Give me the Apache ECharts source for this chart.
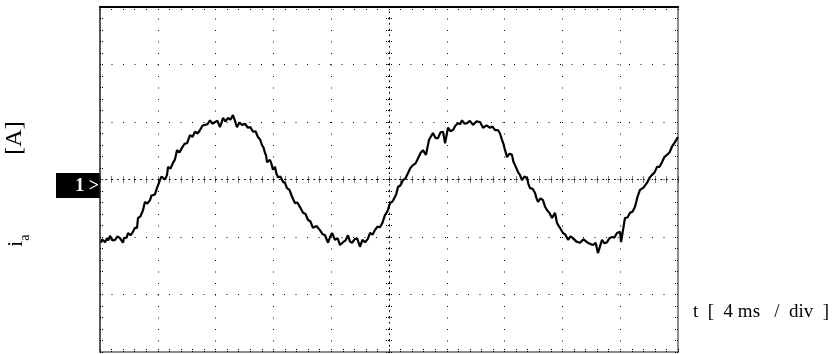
<!DOCTYPE html>
<html>
<head>
<meta charset="utf-8">
<style>
  html, body { margin: 0; padding: 0; background: #fff; }
  #chart { width: 836px; height: 354px; }
</style>
<script src="https://cdn.jsdelivr.net/npm/echarts@6/dist/echarts.min.js"></script>
</head>
<body>
<div id="chart"></div>
<script>
// time in ms (4 ms / div, 10 div)
const timeMs = [
  0.07, 0.14, 0.21, 0.35, 0.48, 0.58, 0.69, 0.86, 1.04, 1.21, 1.38, 1.48, 1.59, 1.66, 1.73, 1.84,
  1.94, 2.11, 2.28, 2.42, 2.56, 2.63, 2.80, 2.98, 3.04, 3.11, 3.28, 3.46, 3.56, 3.67, 3.80, 3.94,
  4.04, 4.15, 4.25, 4.36, 4.50, 4.64, 4.71, 4.88, 5.05, 5.19, 5.33, 5.50, 5.67, 5.85, 6.02, 6.12,
  6.23, 6.40, 6.57, 6.75, 6.92, 7.10, 7.27, 7.44, 7.61, 7.78, 7.96, 8.13, 8.30, 8.40, 8.51, 8.68,
  8.86, 9.03, 9.20, 9.34, 9.48, 9.65, 9.83, 10.03, 10.24, 10.41, 10.59, 10.76, 10.93, 11.07, 11.21,
  11.31, 11.42, 11.49, 11.56, 11.76, 11.86, 11.97, 12.11, 12.21, 12.32, 12.49, 12.66, 12.80, 12.94,
  13.11, 13.29, 13.39, 13.49, 13.66, 13.84, 13.94, 14.05, 14.22, 14.39, 14.56, 14.74, 14.98, 15.22,
  15.40, 15.57, 15.78, 15.92, 16.06, 16.26, 16.44, 16.61, 16.82, 16.99, 17.16, 17.30, 17.44, 17.62,
  17.79, 17.99, 18.16, 18.34, 18.52, 18.69, 18.86, 19.03, 19.20, 19.38, 19.55, 19.72, 19.90, 20.07,
  20.25, 20.42, 20.52, 20.62, 20.80, 20.97, 21.14, 21.31, 21.48, 21.66, 21.84, 22.01, 22.18, 22.35,
  22.56, 22.77, 22.90, 23.04, 23.22, 23.39, 23.56, 23.74, 23.88, 24.08, 24.25, 24.43, 24.60, 24.78,
  24.92, 25.05, 25.22, 25.40, 25.60, 25.81, 26.05, 26.30, 26.40, 26.51, 26.75, 26.99, 27.16, 27.34,
  27.54, 27.68, 27.82, 27.92, 28.03, 28.17, 28.34, 28.51, 28.61, 28.72, 28.82, 28.93, 29.06, 29.20,
  29.37, 29.55, 29.65, 29.76, 29.93, 30.10, 30.20, 30.31, 30.48, 30.66, 30.79, 30.93, 31.10, 31.28,
  31.49, 31.63, 31.73, 31.83, 31.93, 32.04, 32.21, 32.39, 32.56, 32.73, 32.97, 33.22, 33.46, 33.70,
  33.91, 34.12, 34.30, 34.46, 34.74, 34.91, 35.09, 35.26, 35.43, 35.60, 35.78, 35.99, 36.06, 36.33,
  36.50, 36.68, 36.85, 37.02, 37.20, 37.37, 37.61, 37.85, 38.03, 38.20, 38.37, 38.55, 38.72, 38.89,
  39.06, 39.24, 39.41, 39.58, 39.79, 40.00
];
// current, in vertical divisions from the channel-1 ground marker
const currentDiv = [
  -1.10, -1.04, -1.07, -1.09, -1.02, -1.06, -0.98, -1.06, -1.05, -0.99, -1.02, -1.04, -1.10, -1.02, -1.00, -1.01,
  -0.93, -0.97, -0.91, -0.84, -0.84, -0.67, -0.64, -0.53, -0.50, -0.39, -0.42, -0.36, -0.28, -0.30, -0.26, -0.15,
  -0.12, -0.01, 0.05, 0.04, 0.00, 0.08, 0.22, 0.19, 0.29, 0.35, 0.51, 0.47, 0.55, 0.62, 0.63, 0.66,
  0.77, 0.74, 0.83, 0.80, 0.86, 0.94, 0.95, 0.96, 1.03, 0.97, 1.00, 1.02, 0.91, 0.98, 1.07, 1.01,
  1.07, 1.04, 1.12, 1.02, 0.91, 0.99, 0.95, 0.97, 0.90, 0.91, 0.83, 0.84, 0.74, 0.70, 0.60,
  0.56, 0.46, 0.42, 0.30, 0.34, 0.28, 0.17, 0.22, 0.10, 0.04, 0.05, -0.04, -0.06, -0.15,
  -0.18, -0.30, -0.31, -0.41, -0.40, -0.48, -0.49, -0.58, -0.60, -0.70, -0.73, -0.84, -0.81, -0.88,
  -0.95, -0.97, -1.10, -1.00, -0.93, -1.05, -1.02, -1.14, -1.09, -1.06, -0.97, -1.08, -1.10, -1.04,
  -1.02, -1.17, -1.05, -1.09, -1.04, -0.93, -0.96, -0.88, -0.82, -0.83, -0.75, -0.62, -0.55, -0.41,
  -0.38, -0.30, -0.24, -0.13, -0.10, -0.01, 0.02, 0.11, 0.20, 0.25, 0.28, 0.37, 0.46, 0.51,
  0.43, 0.69, 0.71, 0.81, 0.72, 0.72, 0.82, 0.83, 0.63, 0.90, 0.84, 0.86, 0.94, 0.98,
  0.96, 1.03, 0.97, 0.98, 1.02, 0.95, 1.01, 1.00, 0.97, 0.90, 0.94, 0.90, 0.92, 0.86,
  0.86, 0.80, 0.69, 0.62, 0.51, 0.39, 0.45, 0.43, 0.31, 0.25, 0.22, 0.13, 0.08, -0.01,
  0.05, 0.03, -0.08, -0.15, -0.16, -0.23, -0.32, -0.39, -0.33, -0.36, -0.47, -0.53, -0.58, -0.67,
  -0.58, -0.76, -0.78, -0.84, -0.86, -0.93, -0.96, -1.05, -0.99, -1.02, -1.08, -1.10, -1.04, -1.09,
  -1.12, -1.14, -1.10, -1.28, -1.05, -1.11, -1.09, -1.02, -1.00, -1.01, -0.93, -0.91, -1.09, -0.67,
  -0.66, -0.58, -0.56, -0.48, -0.30, -0.18, -0.14, -0.06, 0.03, 0.08, 0.12, 0.22, 0.22, 0.30,
  0.39, 0.43, 0.47, 0.57, 0.65, 0.74
];
const xRange = [0, 40];      // ms
const xDiv = 4;              // ms per division
const yRange = [-3, 3];      // divisions
const yDiv = 1;
const xName = 't  [  4 ms   /  div  ]';
const yNameParts = ['i', 'a', '[A]'];
const channelLabel = '1 >';

const serif = '"Liberation Serif", "Times New Roman", serif';
const dotted = { color: '#000', width: 1, type: [1, 10.5] };

function frameAxis(extra) {
  return Object.assign({
    type: 'value',
    axisLabel: { show: false },
    axisTick: { show: true, inside: true, length: 3, lineStyle: { color: '#000', width: 1, type: [1, 1] } },
    minorTick: { show: true, splitNumber: 5, length: 3, lineStyle: { color: '#000', width: 1, type: [1, 1] } },
    splitLine: { show: false }
  }, extra);
}

const chart = echarts.init(document.getElementById('chart'), null, { renderer: 'canvas' });
const data = timeMs.map((t, i) => [t, currentDiv[i]]);

const gridBase = { outerBoundsMode: 'none', containLabel: false };

chart.setOption({
  animation: false,
  backgroundColor: '#fff',
  grid: [
    Object.assign({ left: 100, top: 7, width: 578, height: 345 }, gridBase),
    Object.assign({ left: 100, top: 7, width: 578, height: 172.5 }, gridBase),
    Object.assign({ left: 100, top: 179.5, width: 578, height: 172.5 }, gridBase),
    Object.assign({ left: 100, top: 7, width: 289, height: 345 }, gridBase),
    Object.assign({ left: 389, top: 7, width: 289, height: 345 }, gridBase)
  ],
  xAxis: [
    frameAxis({
      gridIndex: 0, position: 'bottom', min: xRange[0], max: xRange[1], interval: xDiv,
      axisLine: { show: true, onZero: false, lineStyle: { color: '#8c8c8c', width: 2 } },
      splitLine: { show: true, lineStyle: dotted }
    }),
    frameAxis({
      gridIndex: 0, position: 'top', min: xRange[0], max: xRange[1], interval: xDiv,
      axisLine: { show: true, onZero: false, lineStyle: { color: '#000', width: 2 } }
    }),
    frameAxis({
      gridIndex: 1, position: 'bottom', min: xRange[0], max: xRange[1], interval: xDiv,
      axisLine: { show: true, onZero: false, lineStyle: { color: '#000', width: 1, type: [1, 4.78] } }
    }),
    frameAxis({
      gridIndex: 2, position: 'top', min: xRange[0], max: xRange[1], interval: xDiv,
      axisLine: { show: false, onZero: false }
    }),
    { gridIndex: 3, type: 'value', show: false, min: 0, max: 1 },
    { gridIndex: 4, type: 'value', show: false, min: 0, max: 1 }
  ],
  yAxis: [
    frameAxis({
      gridIndex: 0, position: 'left', min: yRange[0], max: yRange[1], interval: yDiv,
      axisLine: { show: true, onZero: false, lineStyle: { color: '#222', width: 1.5 } },
      splitLine: { show: true, lineStyle: dotted },
      name: '{i|' + yNameParts[0] + '}{s|' + yNameParts[1] + '}{g| }{b|' + yNameParts[2] + '}{e| }',
      nameLocation: 'middle', nameGap: 68, nameRotate: 90,
      nameTextStyle: {
        fontFamily: serif, color: '#000', fontSize: 20,
        rich: {
          i: { fontFamily: serif, fontSize: 21, color: '#000', verticalAlign: 'bottom', padding: [0, 0, 5, 0] },
          s: { fontFamily: serif, fontSize: 14, color: '#000', verticalAlign: 'bottom' },
          g: { width: 80, fontSize: 14 },
          b: { fontFamily: serif, fontSize: 24, color: '#000', verticalAlign: 'bottom', padding: [0, 0, 5, 0] },
          e: { width: 9, fontSize: 14 }
        }
      }
    }),
    frameAxis({
      gridIndex: 0, position: 'right', min: yRange[0], max: yRange[1], interval: yDiv,
      axisLine: { show: true, onZero: false, lineStyle: { color: '#8c8c8c', width: 2 } }
    }),
    { gridIndex: 1, type: 'value', show: false, min: 0, max: 1 },
    { gridIndex: 2, type: 'value', show: false, min: 0, max: 1 },
    frameAxis({
      gridIndex: 3, position: 'right', min: yRange[0], max: yRange[1], interval: yDiv,
      axisLine: { show: true, onZero: false, lineStyle: { color: '#000', width: 1, type: [1, 4.75] } }
    }),
    frameAxis({
      gridIndex: 4, position: 'left', min: yRange[0], max: yRange[1], interval: yDiv,
      axisLine: { show: false, onZero: false }
    })
  ],
  graphic: [
    {
      type: 'group', left: 56, top: 173,
      children: [
        { type: 'rect', shape: { x: 0, y: 0, width: 44, height: 25 }, style: { fill: '#000' } },
        { type: 'text', x: 43, y: 13, style: {
            text: channelLabel, fill: '#fff', font: 'bold 18px ' + serif,
            align: 'right', verticalAlign: 'middle' } }
      ]
    },
    {
      type: 'text', left: 693, top: 303,
      style: { text: xName, fill: '#000', font: '19px ' + serif }
    }
  ],
  series: [
    {
      type: 'line', xAxisIndex: 0, yAxisIndex: 0, data: data,
      showSymbol: false, symbol: 'none', z: 10,
      lineStyle: { color: '#000', width: 2.2 }
    }
  ]
});
</script>
</body>
</html>
